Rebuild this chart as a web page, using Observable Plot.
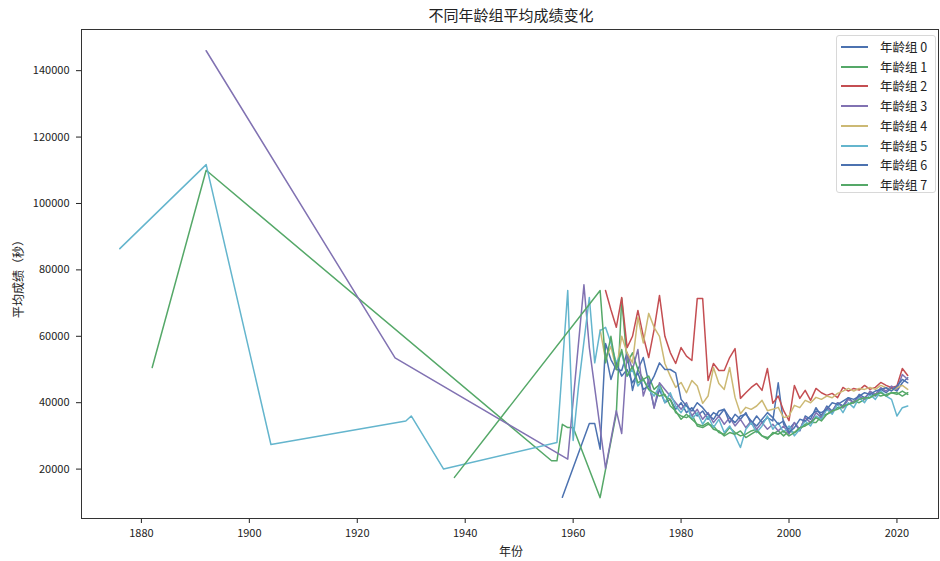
<!DOCTYPE html>
<html><head><meta charset="utf-8">
<script src="https://cdn.jsdelivr.net/npm/d3@7"></script>
<script src="https://cdn.jsdelivr.net/npm/@observablehq/plot@0.6"></script>
<style>
body{margin:0;background:#fff;font-family:'Noto Sans CJK SC',sans-serif;}
#wrap{position:relative;width:940px;height:561px;overflow:hidden;}
#wrap svg{position:absolute;left:0;top:0;}
.lbl{position:absolute;color:#222;white-space:nowrap;}
#legend{position:absolute;left:836px;top:35px;width:100px;height:158px;border:1px solid #d8d8d8;border-radius:3px;background:rgba(255,255,255,0.85);box-sizing:border-box;}
.row{position:absolute;left:0;height:20px;width:100px;}
.sw{position:absolute;left:4px;top:9px;width:27px;height:0;border-top:2px solid;}
.tx{position:absolute;left:43px;top:1px;font-size:12.5px;line-height:18px;color:#222;}
</style></head><body><div id="wrap"></div>
<script>
const groups = ["年龄组 0","年龄组 1","年龄组 2","年龄组 3","年龄组 4","年龄组 5","年龄组 6","年龄组 7"];
const colors = ["#4C72B0","#55A868","#C44E52","#8172B2","#CCB974","#64B5CD","#4C72B0","#55A868"];
const xTicks = [1880,1900,1920,1940,1960,1980,2000,2020];
const yTicks = [20000,40000,60000,80000,100000,120000,140000];

const group0 = [[1958,11500],[1963,33700],[1964,33700],[1965,26000],[1966,57800],[1967,53000],[1968,50000],[1969,49700],[1970,55100],[1971,43700],[1972,50000],[1973,53600],[1974,46000],[1975,38600],[1976,44000],[1977,40000],[1978,41000],[1979,38000],[1980,40000],[1981,37000],[1982,38500],[1983,36000],[1984,37500],[1985,35000],[1986,37000],[1987,36000],[1988,38000],[1989,34000],[1990,36500],[1991,35000],[1992,37000],[1993,33500],[1994,36000],[1995,34000],[1996,35500],[1997,34500],[1998,46000],[1999,33500],[2000,32000],[2001,34000],[2002,31500],[2003,36000],[2004,35000],[2005,38500],[2006,36000],[2007,39000],[2008,37500],[2009,40000],[2010,39000],[2011,41500],[2012,40000],[2013,42500],[2014,41500],[2015,43000],[2016,42000],[2017,44000],[2018,43000],[2019,44500],[2020,43500],[2021,46000],[2022,47500]];
const group1 = [[1882,50600],[1892,110000],[1956,22500],[1957,22500],[1958,33500],[1959,32500],[1960,32500],[1965,11400],[1968,36700],[1969,71400],[1970,52000],[1971,55000],[1972,50000],[1973,47000],[1974,48000],[1975,44000],[1976,45500],[1977,42000],[1978,41000],[1979,37000],[1980,36000],[1981,35500],[1982,36500],[1983,33000],[1984,32500],[1985,33500],[1986,33000],[1987,31000],[1988,30500],[1989,32500],[1990,31000],[1991,30000],[1992,30500],[1993,31500],[1994,32000],[1995,30000],[1996,29500],[1997,30500],[1998,31500],[1999,30000],[2000,31500],[2001,31000],[2002,32000],[2003,33500],[2004,34000],[2005,34000],[2006,36000],[2007,36500],[2008,37500],[2009,38500],[2010,38500],[2011,39500],[2012,40500],[2013,40000],[2014,41000],[2015,41500],[2016,42500],[2017,42000],[2018,42500],[2019,43000],[2020,43000],[2021,42000],[2022,43000]];
const group2 = [[1966,73800],[1967,68000],[1968,62700],[1969,71700],[1970,56600],[1971,60000],[1972,67800],[1973,60000],[1974,53600],[1975,62000],[1976,72300],[1977,60000],[1978,55100],[1979,51800],[1980,56600],[1981,54000],[1982,52700],[1983,71400],[1984,71400],[1985,46700],[1986,51800],[1987,49700],[1988,49700],[1989,53600],[1990,56300],[1991,41300],[1992,43000],[1993,44600],[1994,45800],[1995,43700],[1996,50300],[1997,39800],[1998,42000],[1999,37600],[2000,34600],[2001,45200],[2002,41300],[2003,43700],[2004,40700],[2005,44300],[2006,43000],[2007,42200],[2008,42800],[2009,41500],[2010,44600],[2011,43500],[2012,44300],[2013,43800],[2014,45200],[2015,44000],[2016,44600],[2017,46100],[2018,45200],[2019,44500],[2020,45000],[2021,50300],[2022,48200]];
const group3 = [[1892,146000],[1927,53500],[1959,23000],[1962,75500],[1963,56600],[1966,20200],[1968,37600],[1969,30700],[1970,55000],[1971,50000],[1972,56000],[1973,42000],[1974,47000],[1975,38300],[1976,46000],[1977,44000],[1978,42000],[1979,40000],[1980,38000],[1981,40000],[1982,36000],[1983,38000],[1984,35000],[1985,37000],[1986,34000],[1987,36000],[1988,33500],[1989,35500],[1990,33000],[1991,35000],[1992,32500],[1993,34500],[1994,32000],[1995,34000],[1996,32000],[1997,33500],[1998,31500],[1999,33000],[2000,30500],[2001,34000],[2002,32000],[2003,35500],[2004,34000],[2005,37000],[2006,35500],[2007,38500],[2008,37000],[2009,40000],[2010,38500],[2011,41000],[2012,40000],[2013,42000],[2014,41000],[2015,43500],[2016,42500],[2017,44500],[2018,43500],[2019,45000],[2020,44000],[2021,48500],[2022,47000]];
const group4 = [[1965,62000],[1966,53000],[1967,57000],[1968,50000],[1969,60000],[1970,55000],[1971,52000],[1972,65700],[1973,58000],[1974,66900],[1975,62700],[1976,60000],[1977,51800],[1978,48000],[1979,44600],[1980,46100],[1981,43000],[1982,46700],[1983,45000],[1984,39800],[1985,42000],[1986,50600],[1987,45800],[1988,44000],[1989,50600],[1990,41600],[1991,36700],[1992,38600],[1993,38000],[1994,39000],[1995,40700],[1996,37600],[1997,38000],[1998,38600],[1999,35500],[2000,36000],[2001,39200],[2002,38500],[2003,40700],[2004,40000],[2005,41600],[2006,41000],[2007,42000],[2008,41500],[2009,42800],[2010,43500],[2011,44300],[2012,43500],[2013,44300],[2014,44000],[2015,44600],[2016,44000],[2017,45200],[2018,44500],[2019,43700],[2020,44500],[2021,45200],[2022,44000]];
const group5 = [[1876,86400],[1892,111700],[1904,27400],[1929,34500],[1930,36000],[1936,20000],[1957,28000],[1959,73800],[1960,28600],[1961,45000],[1963,71700],[1964,52000],[1965,61700],[1966,62700],[1967,58000],[1968,52000],[1969,55000],[1970,48000],[1971,50000],[1972,45000],[1973,47000],[1974,44000],[1975,42000],[1976,45000],[1977,40000],[1978,43000],[1979,39000],[1980,37000],[1981,39500],[1982,35000],[1983,37000],[1984,33500],[1985,36000],[1986,32500],[1987,35000],[1988,31000],[1989,33000],[1990,30000],[1991,26500],[1992,32000],[1993,34000],[1994,31000],[1995,33000],[1996,36000],[1997,32000],[1998,34000],[1999,31000],[2000,33000],[2001,30000],[2002,32000],[2003,34500],[2004,33000],[2005,36000],[2006,35000],[2007,38000],[2008,36500],[2009,39500],[2010,37000],[2011,40000],[2012,38500],[2013,41500],[2014,40000],[2015,42500],[2016,41000],[2017,43500],[2018,42000],[2019,41000],[2020,36000],[2021,38500],[2022,39000]];
const group6 = [[1966,55000],[1967,47000],[1968,52000],[1969,48000],[1970,50000],[1971,46000],[1972,49000],[1973,44000],[1974,45000],[1975,48000],[1976,52000],[1977,50000],[1978,50000],[1979,49000],[1980,41000],[1981,39000],[1982,37500],[1983,40000],[1984,38500],[1985,36500],[1986,35000],[1987,37500],[1988,38000],[1989,35500],[1990,34000],[1991,36000],[1992,36500],[1993,34500],[1994,33000],[1995,35000],[1996,37000],[1997,35500],[1998,33500],[1999,34500],[2000,31000],[2001,32500],[2002,35000],[2003,34500],[2004,36000],[2005,37500],[2006,37000],[2007,38000],[2008,40000],[2009,39500],[2010,40500],[2011,41500],[2012,41000],[2013,42000],[2014,43000],[2015,42500],[2016,43500],[2017,44000],[2018,44500],[2019,43500],[2020,45000],[2021,47000],[2022,46000]];
const group7 = [[1938,17500],[1965,73800],[1966,52000],[1967,60000],[1968,50000],[1969,56000],[1970,48000],[1971,51000],[1972,46000],[1973,47000],[1974,44000],[1975,43000],[1976,42000],[1977,42500],[1978,39000],[1979,37500],[1980,35000],[1981,36500],[1982,35000],[1983,33500],[1984,33000],[1985,34000],[1986,32000],[1987,31500],[1988,30000],[1989,31000],[1990,30500],[1991,31500],[1992,29500],[1993,30500],[1994,31500],[1995,30000],[1996,29000],[1997,31000],[1998,30500],[1999,31500],[2000,30000],[2001,31000],[2002,32500],[2003,33000],[2004,34000],[2005,35500],[2006,34500],[2007,36500],[2008,37500],[2009,38000],[2010,39000],[2011,39500],[2012,40000],[2013,41000],[2014,41500],[2015,41500],[2016,42500],[2017,43000],[2018,42000],[2019,43000],[2020,42500],[2021,43500],[2022,42500]];

const seriesList = [group0,group1,group2,group3,group4,group5,group6,group7];
const table = seriesList.flatMap((s, i) => s.map(([year, value]) => ({group: groups[i], year, value})));

const wrap = document.getElementById("wrap");
const chart = Plot.plot({
  width: 940, height: 561,
  marginLeft: 81, marginRight: 2, marginTop: 29, marginBottom: 43,
  style: {fontFamily: "'Noto Sans CJK SC', sans-serif", fontSize: "11px", color: "#222", background: "transparent"},
  x: {domain: [1868.9, 2027.7]},
  y: {domain: [5120, 152400]},
  color: {domain: groups, range: colors},
  marks: [
    Plot.axisX({ticks: xTicks, tickFormat: d => String(d), tickSize: 5, tickPadding: 6, label: null}),
    Plot.axisY({ticks: yTicks, tickFormat: d => String(d), tickSize: 5, tickPadding: 7, label: null}),
    Plot.line(table, {x: "year", y: "value", z: "group", stroke: "group", strokeWidth: 1.5, strokeLinejoin: "round"}),
    Plot.frame({stroke: "#333", strokeWidth: 1})
  ]
});
wrap.appendChild(chart);

function addLabel(text, css) {
  const d = document.createElement("div");
  d.className = "lbl";
  d.textContent = text;
  Object.assign(d.style, css);
  wrap.appendChild(d);
  return d;
}
addLabel("不同年龄组平均成绩变化", {left: "361px", width: "300px", textAlign: "center", top: "5px", fontSize: "15px", lineHeight: "20px"});
addLabel("年份", {left: "461px", width: "100px", textAlign: "center", top: "542px", fontSize: "12px", lineHeight: "18px"});
addLabel("平均成绩（秒）", {left: "-32px", top: "267px", width: "100px", textAlign: "center", fontSize: "12px", lineHeight: "18px", transform: "rotate(-90deg)"});

const legend = document.createElement("div");
legend.id = "legend";
groups.forEach((g, i) => {
  const row = document.createElement("div");
  row.className = "row";
  row.style.top = (1 + i * 19.7) + "px";
  const sw = document.createElement("div");
  sw.className = "sw";
  sw.style.borderTopColor = colors[i];
  const tx = document.createElement("div");
  tx.className = "tx";
  tx.textContent = g;
  row.appendChild(sw); row.appendChild(tx);
  legend.appendChild(row);
});
wrap.appendChild(legend);
</script>
</body></html>
